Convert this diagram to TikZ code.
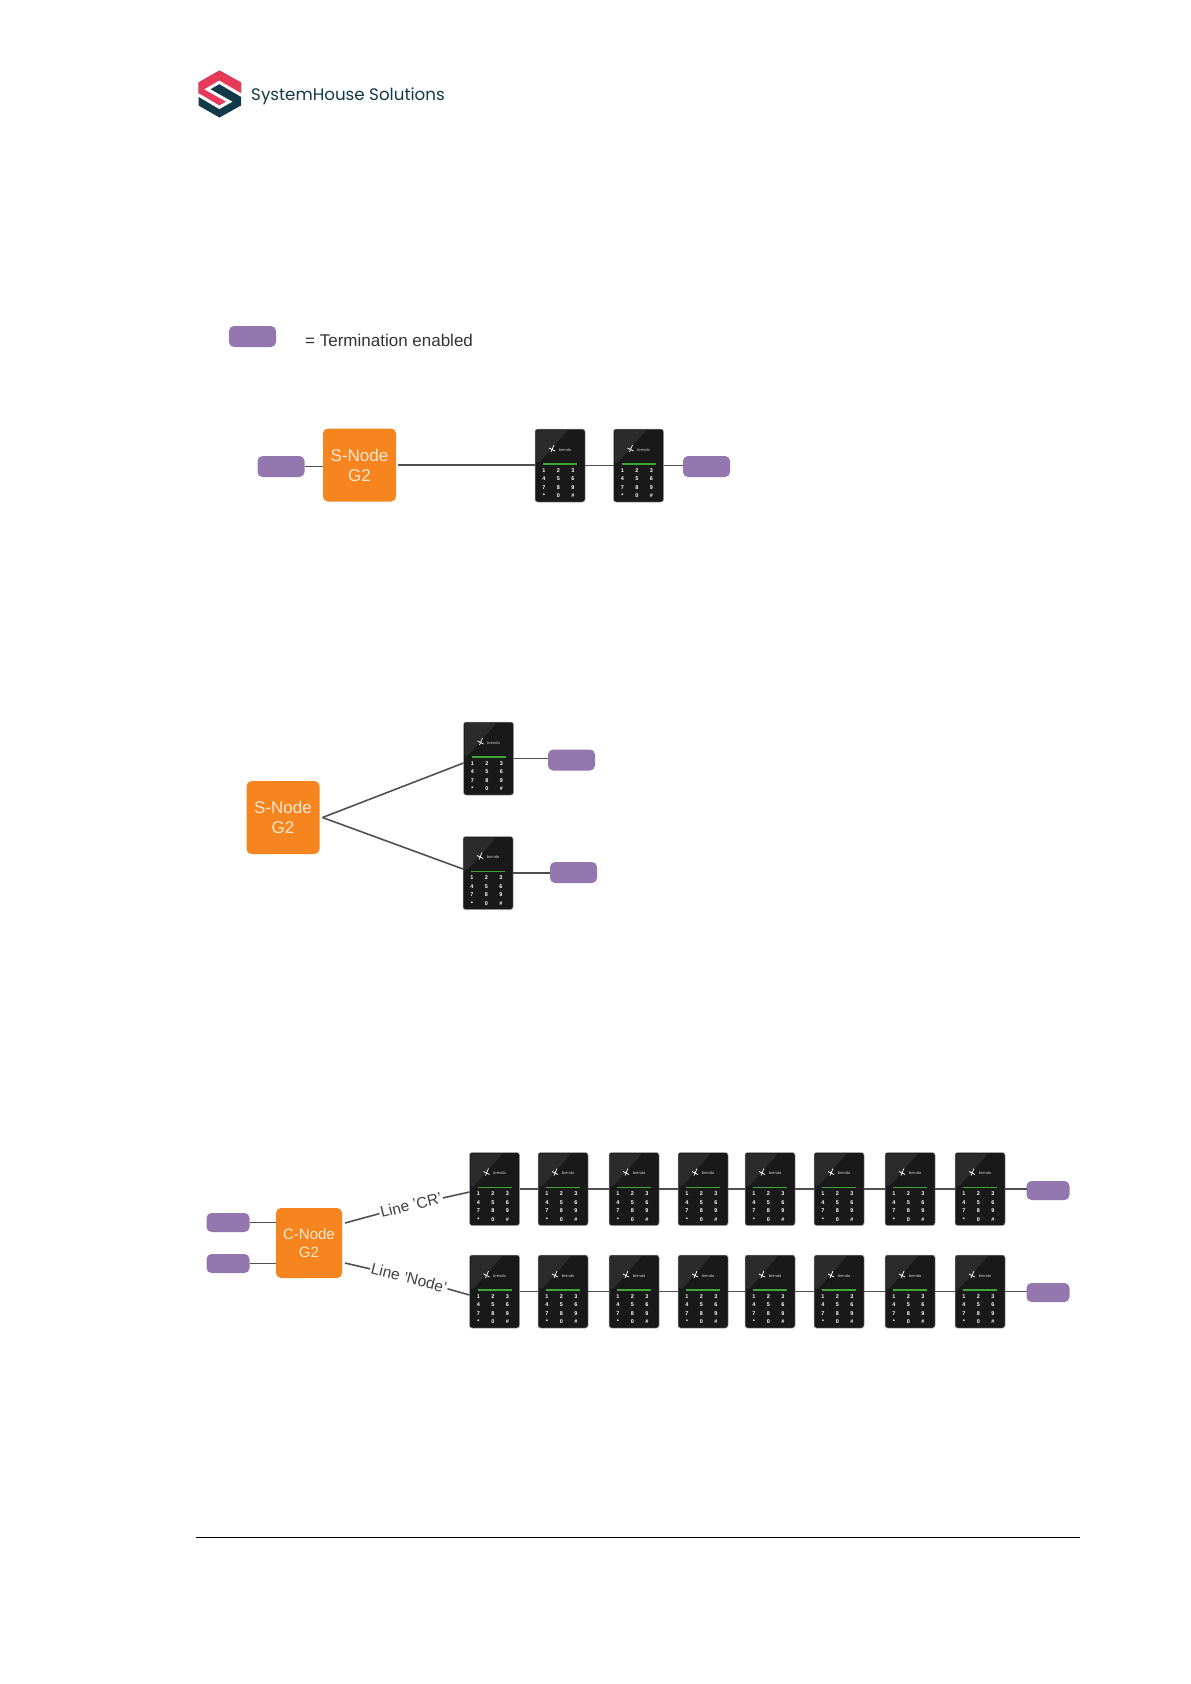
\documentclass[tikz,border=0pt]{standalone}
\usepackage{fontspec}
\setmainfont{Liberation Sans}
\newfontfamily\logofont{Poppins}
\definecolor{nodeorange}{HTML}{F6851F}
\definecolor{termpurple}{HTML}{9377AE}
\definecolor{wire}{HTML}{505050}
\definecolor{logored}{HTML}{E73A58}
\definecolor{logodark}{HTML}{12394A}
\definecolor{readerbody}{HTML}{191919}
\definecolor{readergloss}{HTML}{2B2B2B}
\definecolor{readerled}{HTML}{3FA535}
\newcommand\fsz[1]{\fontsize{#1}{#1}\selectfont}
\tikzset{
  x=1pt,y=-1pt,
  term/.style={rectangle,rounded corners=5pt,fill=termpurple,minimum width=47pt,minimum height=21pt,inner sep=0pt,outer sep=0pt},
  termsmall/.style={term,minimum width=43pt,minimum height=19pt},
  ctrl/.style={rectangle,rounded corners=5pt,fill=nodeorange,text=white!80!nodeorange,align=center,inner sep=0pt,outer sep=0pt},
  snode/.style={ctrl,minimum width=73pt,minimum height=73pt,font=\fsz{17},execute at begin node={\baselineskip=20pt}},
  cnode/.style={ctrl,minimum width=66pt,minimum height=70pt,font=\fsz{15},execute at begin node={\baselineskip=18pt}},
  readerbox/.style={rectangle,rounded corners=2.5pt,fill=readerbody,draw=gray!70,line width=0.5pt,minimum width=50pt,minimum height=73pt,inner sep=0pt,outer sep=0pt},
  keydigit/.style={text=white,font=\fsz{5.5}\bfseries,inner sep=0pt},
  brandtext/.style={text=white!80!black,font=\fsz{4},inner sep=0pt},
  link/.style={draw=wire,line width=1.6pt},
  linelabel/.style={text=black!75,font=\fsz{15.5},inner sep=1pt},
}
% name, centre x, centre y
\newcommand\reader[3]{%
  \node[readerbox] (#1) at (#2,#3) {};
  \begin{scope}[shift={(#1.north west)}]
    \fill[readergloss,rounded corners=2pt] (1,1) -- (33,1) -- (4,34) -- (1,34) -- cycle;
    \draw[readerled,line width=1.6pt] (8,35) -- (42,35);
    \draw[white,line width=0.7pt] (14,19) -- (20,22) (16,23) -- (19,16);
    \node[brandtext] (#1brand) at (30,21) {brendo};
    \foreach \lab [count=\i from 0] in {1,2,3,4,5,6,7,8,9,*,0,\#}{
      \pgfmathtruncatemacro\col{mod(\i,3)}
      \pgfmathtruncatemacro\row{int(\i/3)}
      \node[keydigit] (#1k\i) at ({9+\col*14.5},{41.5+\row*8.5}) {\lab};
    }
  \end{scope}
}
\begin{document}
\begin{tikzpicture}
\useasboundingbox (0,0) rectangle (1191,1684);
\fill[white] (0,0) rectangle (1191,1684);

% logo
\fill[logodark] (219.5,70.5) -- (241,82.5) -- (241,105.5) -- (219.5,117.5) -- (198.5,105.5) -- (198.5,82.5) -- cycle;
\fill[logored] (219.5,70.5) -- (241,82.5) -- (241,95) -- (219.3,82.3) -- (207.3,89.3) -- (229.3,101.7) -- (219.3,107.3) -- (198.5,95) -- (198.5,82.5) -- cycle;
\draw[white,line width=3pt,miter limit=4] (241.5,95.3) -- (219.3,82.3) -- (207.3,89.3) -- (229.3,101.7) -- (219.3,107.3) -- (198,94.7);
\node[anchor=west,inner sep=0pt,text=logodark] (logotext) at (251,96.5) {\logofont\fsz{16.7}SystemHouse Solutions};

% legend
\node[term] (legendterm) at (252.5,336.5) {};
\node[anchor=west,inner sep=0pt,text=black!80,font=\fsz{17}] (legendtext) at (305,340) {= Termination enabled};

% row 1
\node[term] (a1) at (281,466.5) {};
\node[snode] (a2) at (359.5,465) {S-Node\\G2};
\reader{a3}{560}{465.5}
\reader{a4}{638.5}{465.5}
\node[term] (a5) at (706.5,466.5) {};
\draw[link] (a1.east) -- (a1.east -| a2.west);
\draw[link] ([xshift=2pt]a2.east) -- (a2.east -| a3.west);
\draw[link] (a3.east) -- (a4.west);
\draw[link] (a4.east) -- (a4.east -| a5.west);

% row 2
\node[snode] (b1) at (283,817.5) {S-Node\\G2};
\reader{b2}{488.5}{758.5}
\reader{b3}{488}{873}
\node[term] (b4) at (571.5,760) {};
\node[term] (b5) at (573.5,872.5) {};
\draw[link] ([xshift=3pt]b1.east) -- ([yshift=-4.5pt]b2.west);
\draw[link] ([xshift=3pt]b1.east) -- ([yshift=4pt]b3.west);
\draw[link] (b2.east) -- (b2.east -| b4.west);
\draw[link] (b3.east) -- (b3.east -| b5.west);

% row 3
\node[termsmall] (c1) at (228,1222.5) {};
\node[termsmall] (c2) at (228,1263.5) {};
\node[cnode] (c0) at (309,1243) {C-Node\\G2};
\draw[link] (c1.east) -- (c1.east -| c0.west);
\draw[link] (c2.east) -- (c2.east -| c0.west);

\foreach \idx/\cx in {1/494.5,2/563,3/634,4/703,5/770,6/839,7/910,8/980}{
  \reader{p\idx}{\cx}{1189}
  \reader{q\idx}{\cx}{1291.5}
}
\foreach \i/\j in {1/2,2/3,3/4,4/5,5/6,6/7,7/8}{
  \draw[link] (p\i.east) -- (p\j.west);
  \draw[link] (q\i.east) -- (q\j.west);
}
\node[termsmall] (pend) at (1048,1190.5) {};
\node[termsmall] (qend) at (1048,1292.5) {};
\draw[link] (p8.east) -- (p8.east -| pend.west);
\draw[link] (q8.east) -- (q8.east -| qend.west);

\node[linelabel,rotate=14] (lcr) at (411,1205) {Line 'CR'};
\node[linelabel,rotate=-14.5] (lnode) at (409,1278) {Line 'Node'};
\draw[link] ([xshift=3pt,yshift=20pt]c0.east) -- (lcr) -- ([yshift=-3pt]p1.west);
\draw[link] ([xshift=3pt,yshift=-20pt]c0.east) -- (lnode) -- ([yshift=-3.5pt]q1.west);

% footer rule
\coordinate (footl) at (196,1537);
\coordinate (footr) at (1080,1537);
\draw[black,line width=0.7pt] (footl) -- (footr);
\end{tikzpicture}
\end{document}
